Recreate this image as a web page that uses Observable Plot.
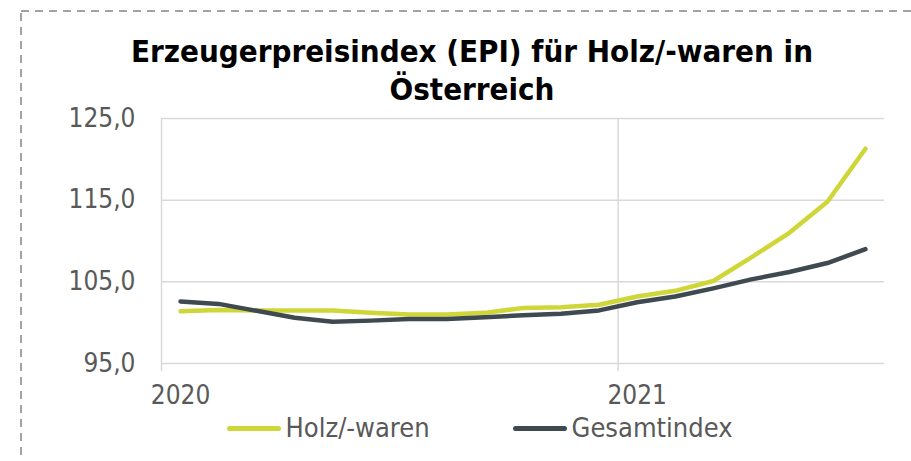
<!DOCTYPE html>
<html>
<head>
<meta charset="utf-8">
<script src="https://cdn.jsdelivr.net/npm/d3@7"></script>
<script src="https://cdn.jsdelivr.net/npm/@observablehq/plot@0.6"></script>
<style>
  body { margin: 0; background: #fff; }
  #wrap { position: relative; width: 911px; height: 461px; overflow: hidden; font-family: "DejaVu Sans Condensed", "DejaVu Sans", sans-serif; }
  #border { position: absolute; left: 0; top: 0; }
  #chart { position: absolute; left: 0; top: 0; }
  #title { position: absolute; left: 0; top: 32px; width: 944px; text-align: center; font-weight: bold; font-size: 31px; line-height: 38px; color: #000; }
  #legend { position: absolute; left: 0; top: 414px; width: 959px; display: flex; justify-content: center; gap: 83px; font-size: 27px; line-height: 27px; color: #595959; }
  .item { display: flex; align-items: center; gap: 5px; }
  .sw { width: 54px; height: 5px; border-radius: 3px; margin-top: 1px; }
</style>
</head>
<body>
<div id="wrap">
  <svg id="border" width="911" height="461"><rect x="21" y="11" width="1000" height="1000" fill="none" stroke="#a89ea9" stroke-width="2" stroke-dasharray="8 6"/></svg>
  <div id="chart"></div>
  <div id="title">Erzeugerpreisindex (EPI) für Holz/-waren in<br>Österreich</div>
  <div id="legend"></div>
</div>
<script>
const months = ["2020-01","2020-02","2020-03","2020-04","2020-05","2020-06","2020-07","2020-08","2020-09","2020-10","2020-11","2020-12","2021-01","2021-02","2021-03","2021-04","2021-05","2021-06","2021-07"];
const holz = [101.4, 101.55, 101.5, 101.5, 101.5, 101.2, 101.0, 101.0, 101.2, 101.8, 101.9, 102.2, 103.2, 103.9, 105.1, 108.0, 111.0, 114.8, 121.3];
const gesamt = [102.6, 102.3, 101.45, 100.6, 100.1, 100.25, 100.45, 100.45, 100.65, 100.9, 101.1, 101.5, 102.5, 103.2, 104.2, 105.3, 106.2, 107.3, 109.0];
const seriesNames = ["Holz/-waren", "Gesamtindex"];
const seriesColors = ["#cfd637", "#3e4a50"];
const years = ["2020", "2021"];
const yTicks = [95, 105, 115, 125];

const yearStart = years.map(y => months.findIndex(m => m.startsWith(y)));
const yearLabelPos = yearStart.map(i => i + 0.5);
const rows = [];
months.forEach((m, i) => {
  rows.push({i, series: seriesNames[0], v: holz[i]});
  rows.push({i, series: seriesNames[1], v: gesamt[i]});
});
const fmt = d3.formatLocale({decimal: ",", thousands: ".", grouping: [3], currency: ["", "€"]}).format(".1f");

const chart = Plot.plot({
  width: 911, height: 461,
  marginLeft: 161, marginRight: 27, marginTop: 118, marginBottom: 98,
  x: {type: "linear", domain: [0, months.length]},
  y: {domain: [95, 125]},
  color: {domain: seriesNames, range: seriesColors},
  style: {fontFamily: "'DejaVu Sans Condensed', 'DejaVu Sans', sans-serif", fontSize: "26px", color: "#595959", background: "transparent", overflow: "visible"},
  marks: [
    Plot.ruleY(yTicks, {stroke: "#d9d9d9", strokeWidth: 1.5}),
    Plot.ruleX(yearStart, {stroke: "#d9d9d9", strokeWidth: 1.5, insetBottom: -8}),
    Plot.axisY(yTicks, {tickSize: 0, tickPadding: 26, tickFormat: fmt, fill: "#595959", fontSize: 26, label: null}),
    Plot.axisX(yearLabelPos, {tickSize: 0, tickPadding: 22, tickFormat: d => years[yearLabelPos.indexOf(d)], fill: "#595959", fontSize: 26, label: null}),
    Plot.line(rows, {x: d => d.i + 0.5, y: "v", z: "series", stroke: "series", strokeWidth: 4.5, strokeLinecap: "round", strokeLinejoin: "round"})
  ]
});
document.getElementById("chart").appendChild(chart);

const legend = document.getElementById("legend");
seriesNames.forEach((s, k) => {
  const it = document.createElement("div");
  it.className = "item";
  const sw = document.createElement("span");
  sw.className = "sw";
  sw.style.background = seriesColors[k];
  const t = document.createElement("span");
  t.textContent = s;
  it.appendChild(sw); it.appendChild(t);
  legend.appendChild(it);
});
</script>
</body>
</html>
